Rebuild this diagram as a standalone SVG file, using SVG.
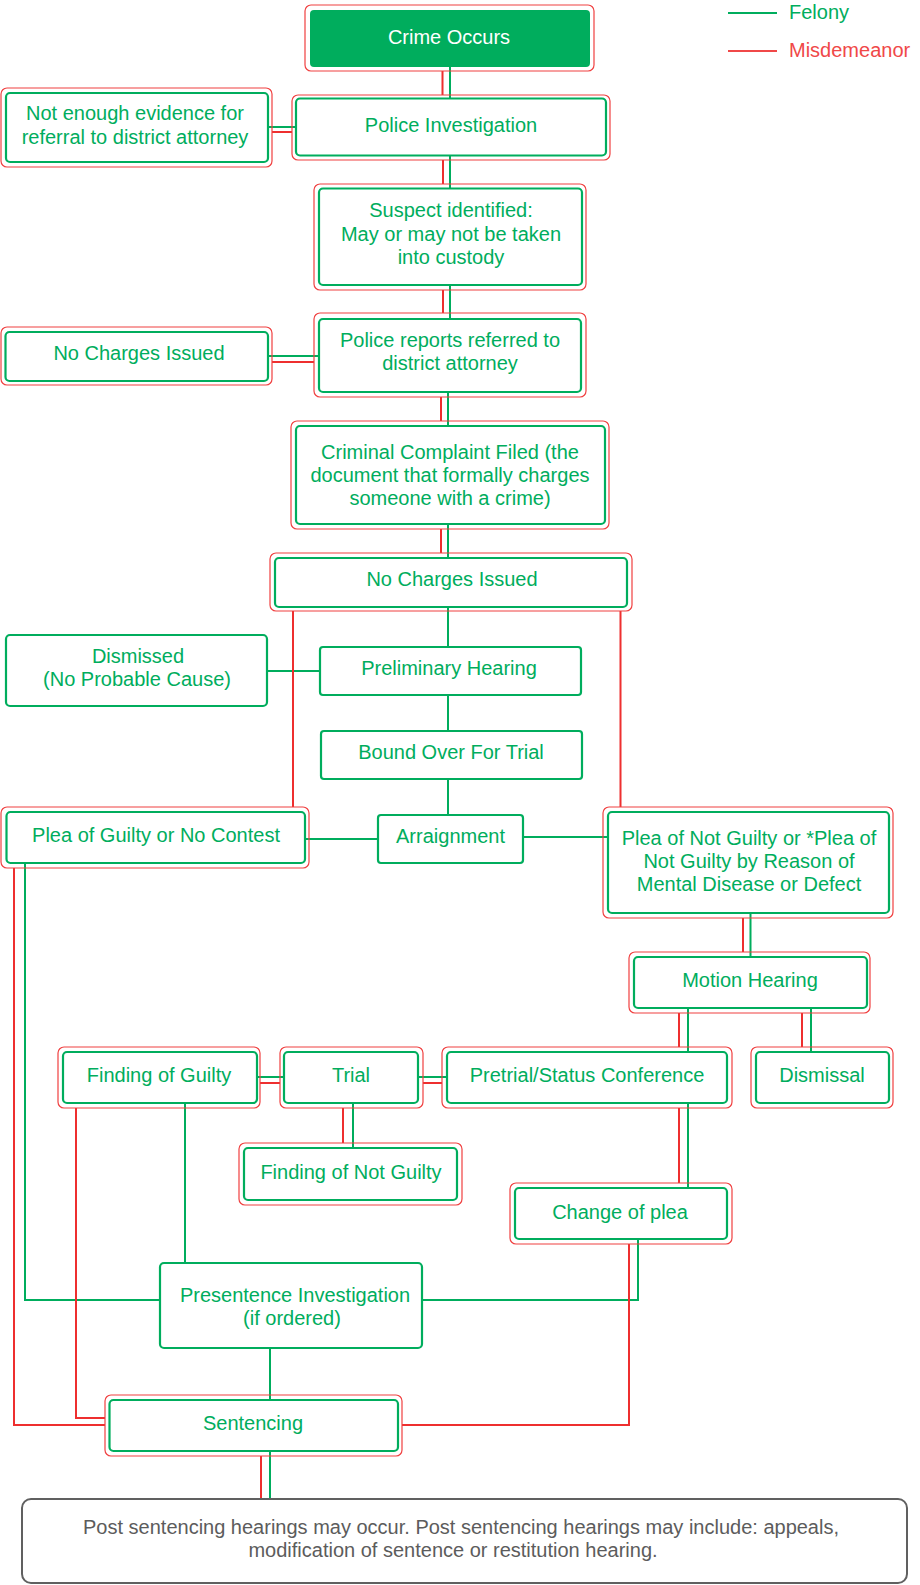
<svg xmlns="http://www.w3.org/2000/svg" width="920" height="1585" viewBox="0 0 920 1585">
<style>
text{font-family:"Liberation Sans",Arial,sans-serif;font-size:20px;fill:#00ad5d;text-anchor:middle}
.o{fill:none;stroke:#f04040;stroke-width:1.2}
.i{fill:#fff;stroke:#00ad5d;stroke-width:2.2}
.g{fill:none;stroke:#00ad5d;stroke-width:2}
.r{fill:none;stroke:#ee2f2f;stroke-width:2}
</style>
<rect width="920" height="1585" fill="#fff"/>
<g id="connectors">
<path class="r" d="M442.5 71V95M443 160V184M443 290V313M441 397V421M441 529V553"/>
<path class="g" d="M450 67V98M450 156V188M450 285V319M448 392V426M448 524V558"/>
<path class="g" d="M268 127H296M268 356H319"/>
<path class="r" d="M272 132H292M272 362H314"/>
<path class="g" d="M448 607V647M448 695V731M448 779V815M267 671H320M305 839H378M523 837H608"/>
<path class="r" d="M293 611V807M620.5 611V807"/>
<path class="r" d="M743 918V952M679 1013V1047M802 1013V1047M343 1108V1143M679 1108V1183M423 1083H442M260 1083H280"/>
<path class="g" d="M750.5 913V957M688 1008V1052M811 1008V1052M353 1103V1148M688 1103V1188M418 1077H447M257 1077H284"/>
<path class="g" d="M638 1239V1300H422M25 863V1300H160M185 1103V1263M270 1348V1400M270 1451V1499"/>
<path class="r" d="M629 1244V1425H402M14 868V1425H105M76 1108V1418H105M261 1456V1499"/>
</g>
<g id="legend">
<line class="g" x1="728" y1="13" x2="777" y2="13"/>
<text x="789" y="19" style="text-anchor:start">Felony</text>
<line x1="728" y1="51" x2="777" y2="51" stroke="#f04848" stroke-width="2"/>
<text x="789" y="57" style="text-anchor:start;fill:#f04848">Misdemeanor</text>
</g>
<g id="crime-occurs">
<rect class="o" x="305" y="5" width="289" height="66" rx="6"/>
<rect x="310" y="10" width="280" height="57" rx="4" fill="#00ad5d"/>
<text x="449" y="44" style="fill:#fff">Crime Occurs</text>
</g>
<g id="police-investigation">
<rect class="o" x="292" y="95" width="318" height="65" rx="6"/>
<rect class="i" x="296" y="98.5" width="310" height="57" rx="4"/>
<text x="451" y="132">Police Investigation</text>
</g>
<g id="not-enough-evidence">
<rect class="o" x="1" y="88" width="271" height="79" rx="6"/>
<rect class="i" x="6" y="93" width="262" height="69" rx="4"/>
<text x="135" y="120">Not enough evidence for</text>
<text x="135" y="143.5">referral to district attorney</text>
</g>
<g id="suspect-identified">
<rect class="o" x="314" y="184" width="272" height="106" rx="6"/>
<rect class="i" x="319" y="188.5" width="263" height="96.5" rx="4"/>
<text x="451" y="217">Suspect identified:</text>
<text x="451" y="240.5">May or may not be taken</text>
<text x="451" y="264">into custody</text>
</g>
<g id="no-charges-1">
<rect class="o" x="1" y="327" width="271" height="58" rx="6"/>
<rect class="i" x="5.5" y="332" width="262.5" height="49" rx="4"/>
<text x="139" y="360">No Charges Issued</text>
</g>
<g id="police-reports">
<rect class="o" x="314" y="313" width="272" height="84" rx="6"/>
<rect class="i" x="319" y="319" width="262" height="73" rx="4"/>
<text x="450" y="347">Police reports referred to</text>
<text x="450" y="370">district attorney</text>
</g>
<g id="criminal-complaint">
<rect class="o" x="291" y="421" width="318" height="108" rx="6"/>
<rect class="i" x="296" y="426" width="309" height="98" rx="4"/>
<text x="450" y="459">Criminal Complaint Filed (the</text>
<text x="450" y="482">document that formally charges</text>
<text x="450" y="505">someone with a crime)</text>
</g>
<g id="no-charges-2">
<rect class="o" x="270" y="553" width="362" height="58" rx="6"/>
<rect class="i" x="275" y="558" width="352" height="49" rx="4"/>
<text x="452" y="586">No Charges Issued</text>
</g>
<g id="dismissed">
<rect class="i" x="6" y="635" width="261" height="71" rx="4"/>
<text x="138" y="663">Dismissed</text>
<text x="137" y="686">(No Probable Cause)</text>
</g>
<g id="preliminary-hearing">
<rect class="i" x="320" y="647" width="261" height="48" rx="3"/>
<text x="449" y="675">Preliminary Hearing</text>
</g>
<g id="bound-over">
<rect class="i" x="321" y="731" width="261" height="48" rx="3"/>
<text x="451" y="759">Bound Over For Trial</text>
</g>
<g id="arraignment">
<rect class="i" x="378" y="815" width="145" height="48" rx="3"/>
<text x="450.5" y="843">Arraignment</text>
</g>
<g id="plea-guilty">
<rect class="o" x="1" y="807" width="308" height="61" rx="6"/>
<rect class="i" x="6.5" y="812" width="298.5" height="51" rx="4"/>
<text x="156" y="842">Plea of Guilty or No Contest</text>
</g>
<g id="plea-not-guilty">
<rect class="o" x="603" y="807" width="290" height="111" rx="6"/>
<rect class="i" x="608" y="812" width="281" height="101" rx="4"/>
<text x="749" y="845">Plea of Not Guilty or *Plea of</text>
<text x="749" y="868">Not Guilty by Reason of</text>
<text x="749" y="891">Mental Disease or Defect</text>
</g>
<g id="motion-hearing">
<rect class="o" x="629" y="952" width="241" height="61" rx="6"/>
<rect class="i" x="634" y="957" width="233" height="51" rx="4"/>
<text x="750" y="987">Motion Hearing</text>
</g>
<g id="finding-guilty">
<rect class="o" x="58" y="1047" width="202" height="61" rx="6"/>
<rect class="i" x="63" y="1052" width="194" height="51" rx="4"/>
<text x="159" y="1082">Finding of Guilty</text>
</g>
<g id="trial">
<rect class="o" x="280" y="1047" width="143" height="61" rx="6"/>
<rect class="i" x="284" y="1052" width="134" height="51" rx="4"/>
<text x="351" y="1082">Trial</text>
</g>
<g id="pretrial">
<rect class="o" x="442" y="1047" width="290" height="61" rx="6"/>
<rect class="i" x="447" y="1052" width="280" height="51" rx="4"/>
<text x="587" y="1082">Pretrial/Status Conference</text>
</g>
<g id="dismissal">
<rect class="o" x="751" y="1047" width="142" height="61" rx="6"/>
<rect class="i" x="756" y="1052" width="133" height="51" rx="4"/>
<text x="822" y="1082">Dismissal</text>
</g>
<g id="not-guilty">
<rect class="o" x="239" y="1143" width="223" height="62" rx="6"/>
<rect class="i" x="244" y="1148" width="213" height="52" rx="4"/>
<text x="351" y="1179">Finding of Not Guilty</text>
</g>
<g id="change-of-plea">
<rect class="o" x="510" y="1183" width="222" height="61" rx="6"/>
<rect class="i" x="515" y="1188" width="212" height="51" rx="4"/>
<text x="620" y="1219">Change of plea</text>
</g>
<g id="presentence">
<rect class="i" x="160" y="1263" width="262" height="85" rx="4"/>
<text x="295" y="1302">Presentence Investigation</text>
<text x="292" y="1325">(if ordered)</text>
</g>
<g id="sentencing">
<rect class="o" x="105" y="1395" width="297" height="61" rx="6"/>
<rect class="i" x="109.5" y="1400" width="288.5" height="51" rx="4"/>
<text x="253" y="1430">Sentencing</text>
</g>
<g id="post-sentencing">
<rect x="22" y="1499" width="885" height="84" rx="9" fill="#fff" stroke="#606060" stroke-width="2"/>
<text x="461" y="1534" style="fill:#5c5c5c">Post sentencing hearings may occur. Post sentencing hearings may include: appeals,</text>
<text x="453" y="1557" style="fill:#5c5c5c">modification of sentence or restitution hearing.</text>
</g>
</svg>
